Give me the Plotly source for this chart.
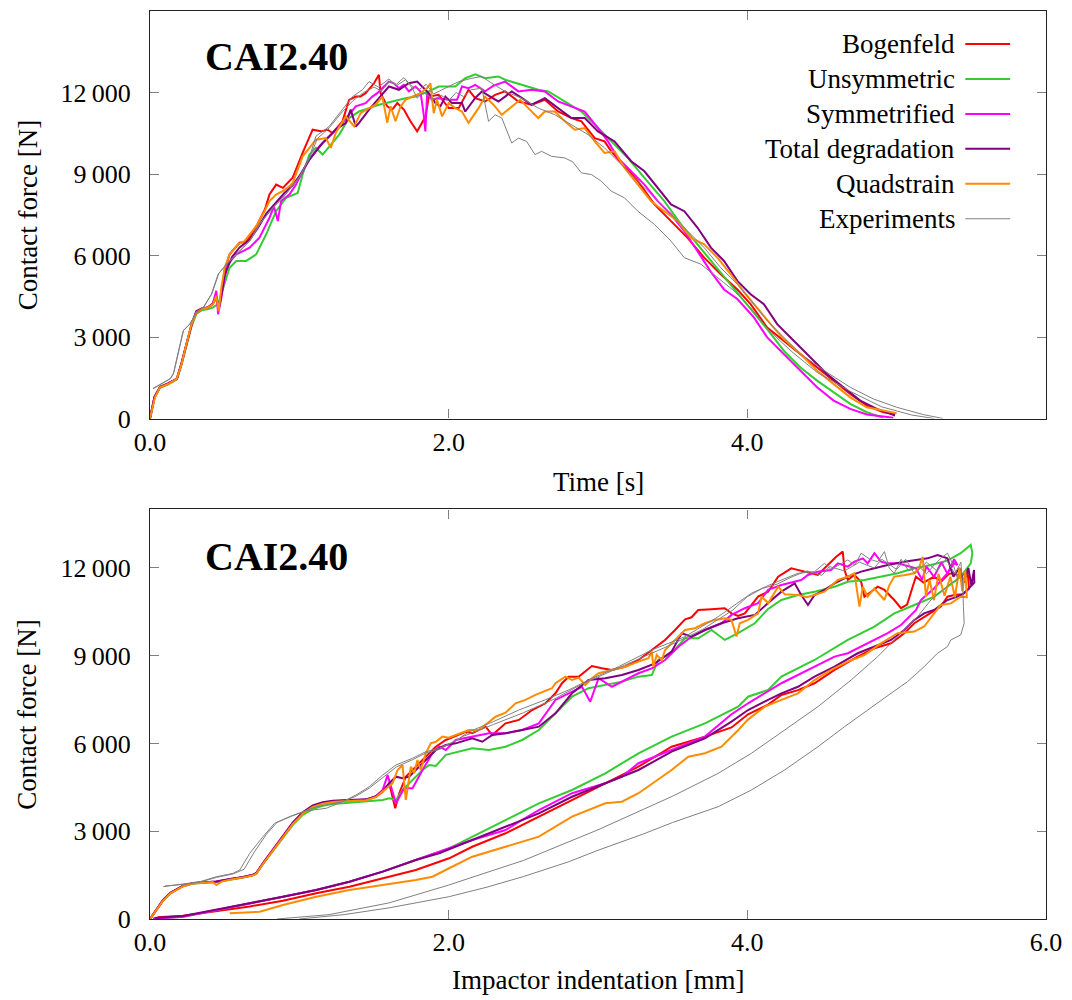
import plotly.graph_objects as go

# ---------------- force vs. time (upper panel) : (time [s], force [N]) ----------------
bogenfeld_time = [
    (0, 0), (0.03, 780), (0.067, 1150), (0.12, 1270), (0.18, 1455), (0.21, 2000), (0.245, 2740),
    (0.28, 3475), (0.31, 3900), (0.345, 4025), (0.39, 4085), (0.42, 4200), (0.445, 4450), (0.46, 4100),
    (0.48, 4700), (0.5, 5450), (0.533, 6050), (0.58, 6350), (0.6, 6470), (0.64, 6500), (0.67, 6700),
    (0.72, 7150), (0.77, 7700), (0.8, 8250), (0.845, 8610), (0.89, 8490), (0.955, 8860), (1.022, 9775),
    (1.089, 10630), (1.144, 10570), (1.19, 10630), (1.222, 10510), (1.289, 10940), (1.333, 11730),
    (1.378, 11850), (1.41, 11850), (1.444, 11975), (1.5, 12340), (1.533, 12650), (1.544, 11975),
    (1.589, 11490), (1.622, 11370), (1.656, 11610), (1.7, 11370), (1.744, 10940), (1.789, 10570),
    (1.822, 10880), (1.845, 11120), (1.867, 11850), (1.933, 11915), (2.0, 11425), (2.067, 11425),
    (2.133, 12100), (2.178, 11790), (2.244, 11670), (2.311, 11915), (2.378, 12040), (2.467, 11670),
    (2.556, 11550), (2.644, 11730), (2.733, 11300), (2.822, 11060), (2.889, 10940), (2.978, 10320),
    (3.044, 10200), (3.089, 9835), (3.156, 9410), (3.267, 8735), (3.378, 7880), (3.489, 7270),
    (3.6, 6650), (3.711, 5920), (3.822, 5310), (3.933, 4750), (4.022, 4210), (4.133, 3350),
    (4.244, 2860), (4.356, 2375), (4.467, 1880), (4.578, 1395), (4.689, 905), (4.8, 475),
    (4.911, 230), (4.99, 170),
]
unsymmetric_time = [
    (0, 0), (0.03, 760), (0.067, 1130), (0.12, 1250), (0.18, 1440), (0.21, 1950), (0.245, 2700),
    (0.28, 3420), (0.31, 3850), (0.345, 3980), (0.39, 4030), (0.42, 4080), (0.456, 4210), (0.5, 4950),
    (0.533, 5550), (0.578, 5800), (0.644, 5800), (0.711, 6040), (0.778, 6780), (0.844, 7630),
    (0.911, 8120), (0.989, 8300), (1.022, 8980), (1.067, 9715), (1.111, 9960), (1.156, 9715),
    (1.211, 10080), (1.267, 10450), (1.333, 11060), (1.4, 11300), (1.467, 11425), (1.533, 11550),
    (1.622, 11670), (1.711, 11790), (1.778, 11850), (1.867, 12040), (1.933, 12220), (2.044, 12220),
    (2.111, 12525), (2.178, 12670), (2.244, 12525), (2.333, 12590), (2.378, 12470), (2.489, 12280),
    (2.6, 12100), (2.667, 12040), (2.778, 11670), (2.889, 11300), (2.978, 10820), (3.089, 10200),
    (3.2, 9590), (3.311, 8860), (3.444, 8000), (3.556, 7145), (3.667, 6410), (3.778, 5680),
    (3.889, 4945), (4.0, 4210), (4.133, 3290), (4.244, 2500), (4.356, 1880), (4.467, 1395),
    (4.578, 965), (4.689, 540), (4.8, 230), (4.911, 25),
]
symmetrified_time = [
    (0, 0), (0.03, 790), (0.067, 1160), (0.12, 1280), (0.18, 1460), (0.21, 2010), (0.245, 2750),
    (0.28, 3480), (0.31, 3910), (0.345, 4030), (0.39, 4090), (0.42, 4220), (0.444, 4700), (0.456, 3840),
    (0.478, 4450), (0.5, 5185), (0.522, 5680), (0.578, 6040), (0.622, 6165), (0.667, 6290),
    (0.733, 6655), (0.8, 7390), (0.83, 7800), (0.856, 7270), (0.878, 8000), (0.933, 8245),
    (0.978, 8610), (1.022, 9100), (1.067, 9530), (1.133, 10020), (1.222, 10510), (1.289, 10880),
    (1.378, 11490), (1.444, 11610), (1.489, 11850), (1.522, 11975), (1.567, 12220), (1.6, 12400),
    (1.633, 12340), (1.667, 12160), (1.7, 12280), (1.733, 12040), (1.778, 12220), (1.811, 12040),
    (1.833, 11180), (1.844, 10570), (1.856, 11975), (1.889, 11730), (1.933, 11790), (2.0, 11730),
    (2.056, 11730), (2.089, 12220), (2.133, 12160), (2.178, 12280), (2.244, 12040), (2.3, 12250),
    (2.378, 12400), (2.467, 12040), (2.556, 12100), (2.644, 12040), (2.733, 11670), (2.822, 11490),
    (2.911, 11300), (3.0, 10690), (3.067, 10200), (3.133, 9590), (3.222, 9100), (3.311, 8610),
    (3.4, 8000), (3.489, 7510), (3.578, 6900), (3.667, 6165), (3.756, 5400), (3.844, 4750),
    (3.933, 4400), (4.044, 3720), (4.133, 2985), (4.244, 2375), (4.356, 1760), (4.467, 1150),
    (4.578, 660), (4.689, 355), (4.8, 145), (4.978, 25),
]
total_degradation_time = [
    (0, 0), (0.03, 800), (0.067, 1170), (0.12, 1290), (0.18, 1470), (0.21, 2020), (0.245, 2760),
    (0.28, 3500), (0.31, 3950), (0.345, 4050), (0.39, 4100), (0.42, 4230), (0.445, 4500), (0.46, 4000),
    (0.48, 4600), (0.5, 5300), (0.55, 5950), (0.6, 6300), (0.67, 6600), (0.72, 7000), (0.78, 7550),
    (0.85, 8000), (0.9, 8300), (0.95, 8550), (1.0, 8920), (1.067, 9530), (1.156, 10140),
    (1.244, 10630), (1.311, 10880), (1.344, 11370), (1.378, 10750), (1.4, 10880), (1.467, 11370),
    (1.533, 11790), (1.6, 12220), (1.667, 12100), (1.733, 12340), (1.789, 12400), (1.822, 12220),
    (1.867, 11975), (1.911, 11610), (1.944, 11490), (1.978, 11850), (2.022, 11610), (2.089, 11610),
    (2.111, 11300), (2.178, 11800), (2.222, 12040), (2.278, 11850), (2.333, 11670), (2.378, 11850),
    (2.422, 12040), (2.489, 11800), (2.556, 11550), (2.644, 11790), (2.733, 11425), (2.822, 11060),
    (2.911, 11060), (3.0, 10570), (3.111, 10200), (3.222, 9470), (3.311, 9100), (3.4, 8490),
    (3.489, 7880), (3.578, 7630), (3.667, 7020), (3.756, 6290), (3.8, 6040), (3.844, 5800),
    (3.933, 5065), (4.022, 4575), (4.111, 4210), (4.2, 3475), (4.311, 2860), (4.422, 2250),
    (4.533, 1640), (4.644, 1150), (4.756, 660), (4.867, 355), (4.989, 110),
]
quadstrain_time = [
    (0, 0), (0.033, 780), (0.067, 1150), (0.122, 1270), (0.178, 1455), (0.211, 2000), (0.244, 2740),
    (0.278, 3475), (0.311, 3900), (0.344, 4025), (0.389, 4085), (0.422, 4210), (0.444, 4515),
    (0.46, 3950), (0.478, 4820), (0.5, 5550), (0.533, 6040), (0.589, 6410), (0.633, 6530),
    (0.667, 6780), (0.711, 7080), (0.767, 7630), (0.8, 8000), (0.844, 8245), (0.889, 8370),
    (0.933, 8550), (0.956, 8670), (1.022, 9650), (1.111, 10265), (1.178, 10325), (1.211, 9960),
    (1.244, 10510), (1.311, 11120), (1.367, 10750), (1.411, 11240), (1.467, 11425), (1.511, 11550),
    (1.556, 11850), (1.589, 10880), (1.611, 11490), (1.644, 10940), (1.678, 11490), (1.711, 11730),
    (1.756, 11850), (1.811, 11975), (1.856, 12160), (1.878, 12340), (1.9, 11240), (1.922, 11730),
    (1.956, 11120), (2.0, 11610), (2.044, 11425), (2.089, 11300), (2.133, 10880), (2.2, 11425),
    (2.244, 11850), (2.3, 11550), (2.356, 11180), (2.422, 11490), (2.478, 11730), (2.533, 11425),
    (2.6, 11060), (2.644, 11300), (2.711, 11300), (2.778, 10940), (2.844, 10630), (2.911, 10690),
    (2.978, 10200), (3.044, 9775), (3.111, 9835), (3.178, 9225), (3.267, 8610), (3.356, 8000),
    (3.444, 7630), (3.533, 7270), (3.622, 6650), (3.711, 6410), (3.8, 5920), (3.889, 5310),
    (3.978, 4650), (4.067, 4050), (4.156, 3475), (4.244, 2925), (4.356, 2375), (4.467, 1760),
    (4.578, 1270), (4.689, 780), (4.8, 415), (5.0, 195),
]
experiment1_time = [
    (0.02, 1090), (0.133, 1455), (0.156, 1640), (0.222, 3230), (0.267, 3475), (0.311, 3900),
    (0.356, 4085), (0.411, 4575), (0.456, 5310), (0.511, 5680), (0.578, 6040), (0.667, 6530),
    (0.733, 7145), (0.822, 7755), (0.889, 8120), (1.0, 8860), (1.067, 9590), (1.111, 10390),
    (1.2, 10750), (1.289, 11370), (1.356, 11850), (1.422, 12100), (1.467, 12400), (1.53, 12200),
    (1.6, 12500), (1.65, 12250), (1.711, 12470), (1.756, 12160), (1.789, 11790), (1.83, 12000),
    (1.9, 11750), (1.95, 11900), (2.0, 11700), (2.05, 12000), (2.1, 11850), (2.15, 12100),
    (2.222, 12160), (2.267, 10940), (2.311, 11180), (2.356, 11060), (2.422, 10140), (2.467, 10320),
    (2.522, 10200), (2.578, 9715), (2.622, 9835), (2.689, 9650), (2.778, 9590), (2.83, 9450),
    (2.889, 9040), (2.956, 8980), (3.022, 8735), (3.089, 8370), (3.178, 8120), (3.267, 7630),
    (3.378, 7145), (3.489, 6530), (3.578, 5920), (3.689, 5680), (3.8, 5185), (3.911, 4700),
    (4.022, 4085), (4.133, 3300), (4.3, 2450), (4.467, 1700), (4.689, 1000), (4.9, 430),
    (5.1, 130), (5.25, 0),
]
experiment2_time = [
    (0.02, 1110), (0.14, 1480), (0.16, 1700), (0.225, 3250), (0.27, 3500), (0.315, 3920),
    (0.36, 4100), (0.415, 4600), (0.46, 5330), (0.515, 5700), (0.58, 6060), (0.67, 6550),
    (0.74, 7200), (0.83, 7800), (0.9, 8200), (1.0, 8900), (1.07, 9600), (1.12, 10300), (1.2, 10700),
    (1.29, 11300), (1.36, 11700), (1.43, 12000), (1.5, 12200), (1.55, 12050), (1.6, 12400),
    (1.65, 12300), (1.7, 12550), (1.75, 12250), (1.8, 12100), (1.85, 12300), (1.9, 11950),
    (1.933, 12040), (2.0, 12220), (2.067, 12400), (2.156, 12525), (2.222, 12590), (2.289, 12340),
    (2.378, 12040), (2.489, 11790), (2.6, 11425), (2.711, 11180), (2.822, 10820), (2.933, 10450),
    (3.044, 9960), (3.156, 9350), (3.267, 8735), (3.378, 8120), (3.489, 7510), (3.6, 6900),
    (3.711, 6290), (3.822, 5550), (3.933, 4945), (4.044, 4210), (4.133, 3600), (4.356, 2375),
    (4.533, 1700), (4.689, 1150), (4.844, 720), (5.0, 415), (5.178, 145), (5.311, 0),
]

# ---------------- force vs. indentation (lower panel) : (indentation [mm], force [N]) ----------------
bogenfeld_indent = [
    (0, 0), (0.044, 310), (0.089, 650), (0.134, 880), (0.178, 1015), (0.222, 1130), (0.289, 1220),
    (0.356, 1240), (0.445, 1275), (0.534, 1355), (0.623, 1425), (0.69, 1505), (0.712, 1560),
    (0.757, 1905), (0.823, 2360), (0.89, 2815), (0.957, 3270), (1.023, 3615), (1.09, 3840),
    (1.157, 3955), (1.224, 4010), (1.29, 4035), (1.38, 4045), (1.447, 4070), (1.513, 4180),
    (1.558, 4350), (1.602, 4640), (1.642, 3785), (1.669, 4300), (1.713, 4865), (1.78, 5210),
    (1.847, 5550), (1.914, 5890), (1.981, 6120), (2.114, 6400), (2.158, 6350), (2.248, 6575),
    (2.292, 6290), (2.381, 6690), (2.47, 6805), (2.559, 7145), (2.648, 7375), (2.715, 7715),
    (2.759, 8060), (2.804, 8285), (2.87, 8285), (2.959, 8650), (3.026, 8570), (3.093, 8515),
    (3.182, 8625), (3.271, 8855), (3.36, 9195), (3.449, 9540), (3.516, 9880), (3.583, 10245),
    (3.627, 10315), (3.671, 10565), (3.76, 10590), (3.849, 10625), (3.894, 10450), (3.938, 10360),
    (3.983, 10450), (4.027, 10735), (4.072, 11020), (4.139, 11190), (4.206, 11705), (4.294, 11990),
    (4.383, 11875), (4.472, 11760), (4.539, 12105), (4.595, 12385), (4.639, 12560), (4.651, 11930),
    (4.673, 11590), (4.717, 11760), (4.762, 11530), (4.784, 11020), (4.829, 11190), (4.873, 11360),
    (4.918, 11250), (4.984, 10905), (5.029, 10625), (5.07, 10750), (5.107, 11360), (5.129, 11705),
    (5.18, 11500), (5.25, 11700), (5.3, 11550), (5.35, 11800), (5.385, 11820), (5.43, 11700),
    (5.474, 11930), (5.485, 11300),
    (5.44, 11100), (5.385, 11075), (5.34, 11020), (5.296, 10680), (5.207, 10395), (5.118, 10110),
    (5.051, 9770), (4.962, 9425), (4.851, 9255), (4.739, 8970), (4.584, 8515), (4.45, 8060),
    (4.339, 7825), (4.228, 7660), (4.139, 7330), (4.005, 7000), (3.894, 6550), (3.716, 6235),
    (3.493, 5890), (3.271, 5210), (3.049, 4640), (2.826, 4070), (2.604, 3500), (2.381, 2930),
    (2.158, 2470), (2.003, 2075), (1.78, 1675), (1.558, 1390), (1.335, 1105), (1.113, 880),
    (0.89, 625), (0.668, 430), (0.445, 260), (0.222, 110), (0.05, 60),
]
unsymmetric_indent = [
    (0, 0), (0.044, 300), (0.089, 640), (0.134, 870), (0.178, 1000), (0.222, 1120), (0.289, 1210),
    (0.356, 1230), (0.445, 1265), (0.534, 1345), (0.623, 1415), (0.69, 1495), (0.712, 1545),
    (0.757, 1880), (0.823, 2330), (0.89, 2780), (0.957, 3220), (1.023, 3560), (1.09, 3760),
    (1.157, 3870), (1.224, 3930), (1.29, 3960), (1.38, 3990), (1.447, 4020), (1.513, 4060),
    (1.558, 4070), (1.602, 4125), (1.647, 4070), (1.691, 4410), (1.758, 4750), (1.825, 5095),
    (1.87, 5265), (1.914, 5230), (1.981, 5610), (2.025, 5665), (2.158, 5835), (2.27, 5780),
    (2.381, 5890), (2.492, 6120), (2.604, 6460), (2.715, 7030), (2.826, 7600), (2.937, 7890),
    (3.049, 8000), (3.16, 8115), (3.271, 8285), (3.36, 8340), (3.404, 8855), (3.493, 9085),
    (3.583, 9595), (3.671, 9595), (3.76, 9880), (3.849, 9540), (3.938, 9770), (4.05, 10110),
    (4.139, 10600), (4.228, 10905), (4.339, 11075), (4.45, 11190), (4.584, 11360), (4.673, 11530),
    (4.784, 11590), (4.895, 11705), (5.006, 11820), (5.118, 11990), (5.229, 12100), (5.34, 12250),
    (5.429, 12505), (5.496, 12790), (5.507, 12505),
    (5.496, 12160), (5.429, 11705), (5.34, 11360), (5.251, 11020), (5.118, 10735), (4.984, 10450),
    (4.851, 9995), (4.673, 9540), (4.45, 8855), (4.228, 8285), (4.139, 7830), (4.005, 7600),
    (3.938, 7260), (3.716, 6690), (3.493, 6235), (3.271, 5665), (3.049, 4980), (2.826, 4410),
    (2.604, 3955), (2.381, 3385), (2.158, 2815), (2.003, 2415), (1.78, 2015), (1.558, 1620),
    (1.335, 1275), (1.113, 990), (0.89, 760), (0.668, 540), (0.445, 310), (0.222, 80), (0.02, 10),
]
symmetrified_indent = [
    (0, 0), (0.044, 310), (0.089, 655), (0.134, 885), (0.178, 1020), (0.222, 1135), (0.289, 1225),
    (0.356, 1245), (0.445, 1280), (0.534, 1360), (0.623, 1430), (0.69, 1510), (0.712, 1570),
    (0.757, 1920), (0.823, 2380), (0.89, 2840), (0.957, 3300), (1.023, 3640), (1.09, 3860),
    (1.157, 3970), (1.224, 4020), (1.29, 4040), (1.38, 4050), (1.447, 4075), (1.513, 4200),
    (1.558, 4410), (1.591, 4920), (1.647, 3955), (1.702, 4470), (1.758, 4470), (1.825, 5095),
    (1.891, 5665), (1.936, 5890), (1.981, 5780), (2.047, 6120), (2.158, 6235), (2.27, 6350),
    (2.381, 6350), (2.492, 6460), (2.604, 6690), (2.715, 7490), (2.804, 7715), (2.893, 7940),
    (2.948, 7430), (3.004, 8230), (3.093, 7940), (3.182, 8170), (3.271, 8400), (3.36, 8570),
    (3.449, 8855), (3.538, 9310), (3.627, 9650), (3.716, 9880), (3.827, 10110), (3.894, 10395),
    (3.983, 10625), (4.072, 10800), (4.139, 11250), (4.228, 11420), (4.361, 11590), (4.406, 11760),
    (4.472, 11875), (4.561, 11930), (4.606, 12160), (4.673, 12045), (4.717, 12215), (4.773, 12330),
    (4.806, 12160), (4.851, 12505), (4.895, 12215), (4.94, 12160), (5.006, 12160), (5.129, 11990),
    (5.17, 11600), (5.2, 12050), (5.25, 11700), (5.3, 12200), (5.34, 11800), (5.385, 12300),
    (5.407, 12100),
    (5.385, 12160), (5.34, 11820), (5.25, 11300), (5.162, 10905), (5.13, 10565), (5.096, 10395),
    (5.029, 10050), (4.94, 9770), (4.806, 9425), (4.673, 9085), (4.584, 8970), (4.45, 8625),
    (4.228, 8060), (4.005, 7375), (3.894, 7000), (3.716, 6235), (3.493, 5780), (3.271, 5325),
    (3.16, 4865), (3.049, 4640), (2.826, 4300), (2.604, 3725), (2.492, 3385), (2.381, 3040),
    (2.158, 2700), (1.936, 2300), (1.78, 2015), (1.558, 1620), (1.335, 1275), (1.113, 990),
    (0.89, 760), (0.668, 540), (0.445, 310), (0.222, 80), (0.02, 10),
]
total_degradation_indent = [
    (0, 0), (0.044, 315), (0.089, 660), (0.134, 890), (0.178, 1025), (0.222, 1140), (0.289, 1230),
    (0.356, 1250), (0.445, 1285), (0.534, 1365), (0.623, 1435), (0.69, 1515), (0.712, 1575),
    (0.757, 1900), (0.823, 2350), (0.89, 2820), (0.957, 3290), (1.023, 3650), (1.09, 3880),
    (1.157, 3990), (1.224, 4040), (1.29, 4060), (1.38, 4070), (1.447, 4090), (1.513, 4200),
    (1.558, 4370), (1.602, 4640), (1.647, 4865), (1.691, 4810), (1.736, 4865), (1.78, 5095),
    (1.847, 5435), (1.914, 5780), (1.981, 5950), (2.047, 6005), (2.158, 6180), (2.225, 6060),
    (2.292, 6290), (2.381, 6350), (2.492, 6460), (2.604, 6575), (2.715, 7030), (2.826, 7715),
    (2.937, 8170), (3.049, 8230), (3.16, 8340), (3.271, 8515), (3.382, 8740), (3.493, 9140),
    (3.56, 9770), (3.627, 9655), (3.716, 9880), (3.827, 10110), (3.938, 10280), (4.05, 10395),
    (4.139, 10800), (4.228, 11190), (4.317, 11475), (4.361, 11075), (4.406, 10735), (4.45, 11075),
    (4.517, 11250), (4.584, 11475), (4.673, 11705), (4.762, 11875), (4.851, 11990), (4.94, 12105),
    (5.051, 12215), (5.118, 12275), (5.207, 12330), (5.274, 12445), (5.34, 12330), (5.38, 11700),
    (5.42, 12000), (5.45, 11500), (5.48, 12000), (5.5, 11400), (5.518, 11930), (5.52, 11500),
    (5.452, 11135), (5.407, 11020), (5.34, 10905), (5.251, 10565), (5.184, 10450), (5.118, 10225),
    (5.051, 9880), (4.962, 9540), (4.851, 9310), (4.739, 9085), (4.584, 8625), (4.45, 8285),
    (4.339, 7940), (4.228, 7715), (4.139, 7490), (4.005, 7145), (3.894, 6750), (3.716, 6180),
    (3.493, 5720), (3.271, 5095), (3.049, 4640), (2.826, 4180), (2.604, 3610), (2.381, 3155),
    (2.158, 2700), (1.936, 2250), (1.78, 2015), (1.558, 1620), (1.335, 1275), (1.113, 990),
    (0.89, 760), (0.668, 540), (0.445, 310), (0.222, 100), (0.03, 30),
]
quadstrain_indent = [
    (0, 0), (0.044, 300), (0.089, 640), (0.134, 870), (0.178, 1005), (0.222, 1120), (0.289, 1210),
    (0.356, 1230), (0.42, 1260), (0.445, 1160), (0.48, 1280), (0.534, 1345), (0.623, 1415),
    (0.69, 1495), (0.712, 1550), (0.757, 1890), (0.823, 2350), (0.89, 2800), (0.957, 3250),
    (1.023, 3600), (1.09, 3830), (1.157, 3945), (1.224, 4000), (1.29, 4025), (1.38, 4040),
    (1.447, 4060), (1.513, 4170), (1.558, 4350), (1.624, 4640), (1.658, 5095), (1.691, 5265),
    (1.713, 4070), (1.747, 5210), (1.769, 4980), (1.791, 5435), (1.813, 5095), (1.847, 5665),
    (1.88, 6005), (1.914, 6060), (1.958, 6235), (2.0, 6200), (2.136, 6460), (2.2, 6450),
    (2.314, 6915), (2.381, 7055), (2.448, 7375), (2.514, 7490), (2.581, 7660), (2.636, 7770),
    (2.692, 7890), (2.715, 8060), (2.781, 8285), (2.826, 8170), (2.87, 8250), (2.915, 8000),
    (2.959, 8230), (3.004, 8400), (3.093, 8515), (3.182, 8625), (3.271, 8800), (3.338, 8915),
    (3.36, 9140), (3.371, 8625), (3.393, 9025), (3.427, 8855), (3.449, 9195), (3.516, 9540),
    (3.56, 9770), (3.583, 9880), (3.649, 9940), (3.716, 10110), (3.783, 10225), (3.849, 10280),
    (3.894, 10225), (3.927, 9655), (3.95, 10110), (4.005, 10225), (4.072, 10450), (4.095, 11020),
    (4.14, 10800), (4.206, 11360), (4.25, 11100), (4.339, 11075), (4.4, 11000), (4.517, 11190),
    (4.606, 11590), (4.673, 11705), (4.717, 11820), (4.739, 11135), (4.751, 10680), (4.773, 11360),
    (4.806, 11020), (4.85, 11300), (4.918, 10905), (4.95, 11400), (4.984, 11705), (5.05, 11750),
    (5.118, 11820), (5.15, 12000), (5.174, 12385), (5.196, 11020), (5.22, 11600), (5.25, 10900),
    (5.28, 11800), (5.32, 11050), (5.36, 11700), (5.39, 11000), (5.42, 12000), (5.44, 11200),
    (5.46, 11900), (5.47, 11000),
    (5.429, 11020), (5.363, 10790), (5.296, 10735), (5.251, 10450), (5.184, 10000), (5.118, 9825),
    (5.006, 9770), (4.895, 9425), (4.784, 9025), (4.673, 8800), (4.561, 8515), (4.45, 8170),
    (4.339, 7715), (4.228, 7490), (4.117, 7260), (4.0, 6800), (3.938, 6450), (3.827, 5890),
    (3.716, 5665), (3.605, 5550), (3.493, 5095), (3.271, 4300), (3.16, 4010), (3.049, 3955),
    (2.826, 3500), (2.604, 2815), (2.381, 2470), (2.158, 2130), (2.003, 1735), (1.891, 1445),
    (1.78, 1335), (1.558, 1160), (1.335, 990), (1.113, 760), (0.89, 480), (0.735, 250), (0.534, 195),
]
experiment1_indent = [
    (0.089, 1105), (0.222, 1195), (0.334, 1275), (0.445, 1445), (0.556, 1560), (0.601, 1675),
    (0.668, 2245), (0.757, 2815), (0.834, 3270), (0.935, 3500), (1.023, 3670), (1.113, 3840),
    (1.29, 4010), (1.38, 4240), (1.469, 4525), (1.558, 4920), (1.647, 5265), (1.758, 5495),
    (1.847, 5720), (1.936, 5835), (2.05, 6100), (2.136, 6400), (2.3, 6750), (2.47, 7145),
    (2.65, 7500), (2.804, 7830), (2.95, 8200), (3.137, 8625), (3.36, 9195), (3.583, 9655),
    (3.805, 10335), (4.027, 11135), (4.139, 11400), (4.228, 11590), (4.339, 11820), (4.45, 11875),
    (4.517, 12160), (4.56, 11950), (4.673, 12275), (4.72, 12100), (4.762, 12505), (4.82, 12300),
    (4.873, 12215), (4.918, 12560), (4.95, 12000), (4.984, 11820), (5.03, 12300), (5.08, 11900),
    (5.15, 12050), (5.2, 11800), (5.25, 12100), (5.3, 12350), (5.34, 12505), (5.38, 12100),
    (5.41, 11590),
    (5.363, 11475), (5.229, 10905), (5.14, 10335), (5.029, 9770), (4.873, 8970), (4.695, 8170),
    (4.473, 7260), (4.25, 6460), (4.027, 5665), (3.805, 4980), (3.5, 4200), (3.0, 3050),
    (2.5, 2000), (2.136, 1390), (2.0, 1160), (1.6, 550), (1.2, 150), (0.85, 0),
]
experiment2_indent = [
    (0.1, 1130), (0.222, 1180), (0.334, 1260), (0.445, 1420), (0.556, 1540), (0.63, 1700),
    (0.7, 2300), (0.78, 2900), (0.85, 3300), (0.95, 3520), (1.05, 3700), (1.18, 3785), (1.29, 4010),
    (1.38, 4200), (1.47, 4480), (1.56, 4850), (1.65, 5200), (1.76, 5450), (1.85, 5680), (1.94, 5800),
    (2.1, 6250), (2.3, 6650), (2.5, 7050), (2.7, 7500), (2.9, 8050), (3.1, 8500), (3.3, 8950),
    (3.5, 9400), (3.7, 9900), (3.9, 10550), (4.0, 11020), (4.1, 11300), (4.2, 11450), (4.3, 11700),
    (4.4, 11900), (4.5, 11750), (4.55, 12050), (4.65, 11900), (4.75, 12200), (4.85, 12000),
    (4.9, 12300), (5.0, 11950), (5.06, 12300), (5.12, 11800), (5.2, 12200), (5.27, 11900),
    (5.33, 12300), (5.39, 11800), (5.43, 12200), (5.443, 11360),
    (5.447, 10680), (5.452, 10110), (5.429, 9710), (5.407, 9655), (5.363, 9540), (5.34, 9310),
    (5.273, 9085), (5.184, 8625), (5.073, 8115), (4.962, 7715), (4.806, 7145), (4.651, 6575),
    (4.473, 5890), (4.25, 5095), (4.027, 4410), (3.805, 3840), (3.5, 3300), (3.3, 2900),
    (3.0, 2350), (2.8, 1950), (2.5, 1450), (2.25, 1080), (2.0, 760), (1.6, 380), (1.3, 150), (1.0, 0),
]

# series: legend label, colour, line width, curves (upper panel, lower panel)
series = [
    ("Bogenfeld", "#ff0000", 2.0, [bogenfeld_time], [bogenfeld_indent]),
    ("Unsymmetric", "#33cc33", 2.0, [unsymmetric_time], [unsymmetric_indent]),
    ("Symmetrified", "#ff00ff", 2.0, [symmetrified_time], [symmetrified_indent]),
    ("Total degradation", "#800080", 2.0, [total_degradation_time], [total_degradation_indent]),
    ("Quadstrain", "#ff8c00", 2.0, [quadstrain_time], [quadstrain_indent]),
    ("Experiments", "#808080", 1.0, [experiment1_time, experiment2_time],
     [experiment1_indent, experiment2_indent]),
]

y_ticks = [0, 3000, 6000, 9000, 12000]
y_tick_text = ["0", "3\u2009000", "6\u2009000", "9\u2009000", "12\u2009000"]

FONT = "Liberation Serif, DejaVu Serif, Times New Roman, serif"

fig = go.Figure()
for name, color, width, top_curves, bottom_curves in series:
    for curve in top_curves:
        fig.add_trace(go.Scatter(
            x=[p[0] for p in curve], y=[p[1] for p in curve], mode="lines",
            line=dict(color=color, width=width), name=name, showlegend=False,
            xaxis="x", yaxis="y"))
    for curve in bottom_curves:
        fig.add_trace(go.Scatter(
            x=[p[0] for p in curve], y=[p[1] for p in curve], mode="lines",
            line=dict(color=color, width=width), name=name, showlegend=False,
            xaxis="x2", yaxis="y2"))

axis_common = dict(
    showline=True, linecolor="#222222", linewidth=1.2, mirror="ticks",
    ticks="inside", ticklen=9, tickwidth=1, tickcolor="#808080",
    showgrid=False, zeroline=False,
    tickfont=dict(family=FONT, size=26, color="black"),
)

fig.update_layout(
    width=1072, height=1000,
    margin=dict(l=150, r=23, t=10, b=81),
    paper_bgcolor="white", plot_bgcolor="white",
    font=dict(family=FONT),
    showlegend=False,
    xaxis=dict(domain=[0, 1], anchor="y", range=[0, 6], tickvals=[0, 2, 4],
               ticktext=["0.0", "2.0", "4.0"], ticklabelstandoff=0, **axis_common),
    yaxis=dict(domain=[0.5512, 1.0], anchor="x", range=[0, 15000], tickvals=y_ticks,
               ticktext=y_tick_text, ticklabelstandoff=13, **axis_common),
    xaxis2=dict(domain=[0, 1], anchor="y2", range=[0, 6], tickvals=[0, 2, 4, 6],
                ticktext=["0.0", "2.0", "4.0", "6.0"], ticklabelstandoff=0, **axis_common),
    yaxis2=dict(domain=[0, 0.4510], anchor="x2", range=[0, 14000], tickvals=y_ticks,
                ticktext=y_tick_text, ticklabelstandoff=13, **axis_common),
)

annotations = []
text_font = dict(family=FONT, size=27, color="black")

# axis titles
annotations.append(dict(text="Time [s]", x=0.5, y=0.4818, xref="paper", yref="paper",
                        xanchor="center", yanchor="middle", showarrow=False, font=text_font))
annotations.append(dict(text="Impactor indentation [mm]", x=0.5, y=-0.0671, xref="paper",
                        yref="paper", xanchor="center", yanchor="middle", showarrow=False,
                        font=text_font))
for yc in (0.7756, 0.2255):
    annotations.append(dict(text="Contact force [N]", x=-0.1368, y=yc, xref="paper",
                            yref="paper", xanchor="center", yanchor="middle", textangle=-90,
                            showarrow=False, font=text_font))

# panel labels
for yc in (0.9494, 0.3993):
    annotations.append(dict(text="<b>CAI2.40</b>", x=0.059, y=yc, xref="paper", yref="paper",
                            xanchor="left", yanchor="middle", showarrow=False,
                            font=dict(family=FONT, size=40, color="black")))

# legend (text on the left, line sample on the right)
legend_rows = [0.9637, 0.9252, 0.8867, 0.8482, 0.8097, 0.7712]
shapes = []
for (name, color, width, _, _), yr in zip(series, legend_rows):
    annotations.append(dict(text=name, x=0.901, y=yr, xref="paper", yref="paper",
                            xanchor="right", yanchor="middle", showarrow=False, font=text_font))
    shapes.append(dict(type="line", xref="paper", yref="paper", x0=0.9099, x1=0.96,
                       y0=yr, y1=yr, line=dict(color=color, width=width)))

fig.update_layout(annotations=annotations, shapes=shapes)

fig.write_html("out.html")
